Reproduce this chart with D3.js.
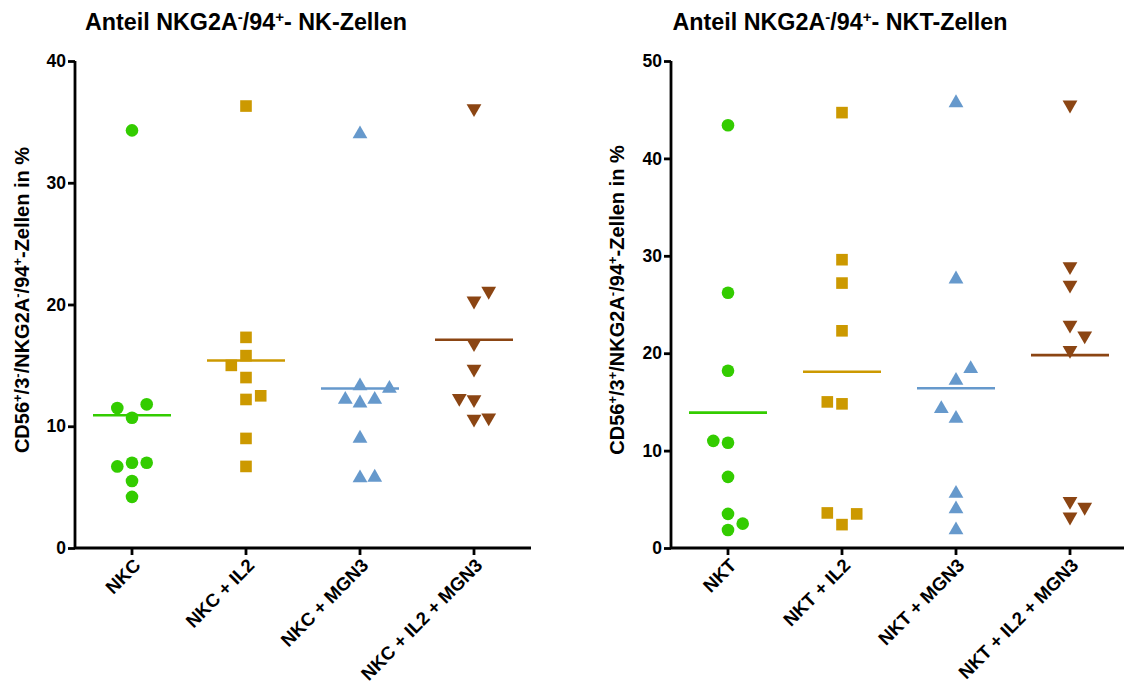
<!DOCTYPE html>
<html>
<head>
<meta charset="utf-8">
<script src="https://cdn.jsdelivr.net/npm/d3@7"></script>
<style>
  html, body { margin: 0; padding: 0; background: #fff; }
  svg { display: block; font-family: "Liberation Sans", Arial, sans-serif; }
</style>
</head>
<body>
<svg id="chart" width="1124" height="689"></svg>
<script>
// ---------- data ----------
const nkCategories = ["NKC", "NKC + IL2", "NKC + MGN3", "NKC + IL2 + MGN3"];
const nktCategories = ["NKT", "NKT + IL2", "NKT + MGN3", "NKT + IL2 + MGN3"];

// NK cells (% values)
const nkcValues        = [34.3, 11.5, 11.8, 10.7, 6.7, 7.0, 7.0, 5.5, 4.2];
const nkcIl2Values     = [36.3, 17.3, 15.8, 15.0, 14.0, 12.2, 12.5, 9.0, 6.7];
const nkcMgn3Values    = [34.0, 13.3, 13.1, 12.2, 11.9, 12.2, 9.0, 5.75, 5.8];
const nkcIl2Mgn3Values = [36.1, 21.1, 20.3, 16.8, 14.7, 12.3, 12.2, 10.6, 10.7];
const nkMeans = [10.9, 15.4, 13.1, 17.1];

// NKT cells (% values)
const nktValues        = [43.4, 26.2, 18.2, 11.0, 10.8, 7.3, 3.5, 2.5, 1.85];
const nktIl2Values     = [44.7, 29.6, 27.2, 22.3, 15.0, 14.8, 3.6, 3.5, 2.4];
const nktMgn3Values    = [45.7, 27.6, 18.4, 17.2, 14.3, 13.3, 5.6, 4.0, 1.85];
const nktIl2Mgn3Values = [45.5, 28.9, 27.0, 22.9, 21.8, 20.3, 4.8, 4.2, 3.2];
const nktMeans = [13.9, 18.1, 16.4, 19.8];

// scatter column (dodge slot) of each point, as drawn
const nkcSlots        = [0, -1, 1, 0, -1, 0, 1, 0, 0];
const nkcIl2Slots     = [0, 0, 0, -1, 0, 0, 1, 0, 0];
const nkcMgn3Slots    = [0, 0, 2, -1, 0, 1, 0, 0, 1];
const nkcIl2Mgn3Slots = [0, 1, 0, 0, 0, -1, 0, 0, 1];
const nktSlots        = [0, 0, 0, -1, 0, 0, 0, 1, 0];
const nktIl2Slots     = [0, 0, 0, 0, -1, 0, -1, 1, 0];
const nktMgn3Slots    = [0, 0, 1, 0, -1, 0, 0, 0, 0];
const nktIl2Mgn3Slots = [0, 0, 0, 0, 1, 0, 0, 1, 0];

const nkTicks = [0, 10, 20, 30, 40];
const nktTicks = [0, 10, 20, 30, 40, 50];

// ---------- styles ----------
const colors = ["#33cc00", "#cc9900", "#6699cc", "#8b4513"];
const shapes = ["circle", "square", "up", "down"];
const FONT = "Liberation Sans, Arial, sans-serif";

const svg = d3.select("#chart");

function superText(sel, parts) {
  parts.forEach(([t, s]) => {
    const ts = sel.append("tspan").text(t);
    if (s === "sup") ts.attr("baseline-shift", "super").attr("font-size", "0.65em");
  });
}

function symbolPath(shp) {
  if (shp === "circle") return d3.symbol(d3.symbolCircle, 125)();
  if (shp === "square") return d3.symbol(d3.symbolSquare, 135)();
  return d3.symbol(d3.symbolTriangle, 95)();
}

function drawPanel(opt) {
  const g = svg.append("g");
  const x = d3.scaleBand().domain(opt.categories).range([opt.left, opt.right]);
  const y = d3.scaleLinear().domain([0, opt.max]).range([548, 61]);
  const slotW = 14.7;

  const yAxis = d3.axisLeft(y).tickValues(opt.ticks).tickSize(7).tickPadding(2);
  const ya = g.append("g").attr("transform", `translate(${opt.left},0)`).call(yAxis);
  const xAxis = d3.axisBottom(x).tickSize(7).tickFormat("");
  const xa = g.append("g").attr("transform", `translate(0,548)`).call(xAxis);
  [ya, xa].forEach(a => {
    a.select(".domain").attr("stroke", "#000").attr("stroke-width", 2.8);
    a.selectAll(".tick line").attr("stroke", "#000").attr("stroke-width", 2.8);
  });
  ya.select(".domain").attr("d", `M0,${y(opt.max)}V548`);
  xa.select(".domain").attr("d", `M${opt.left},0H${opt.right}`);
  ya.selectAll(".tick text").attr("font-size", 17.5).attr("font-weight", "bold")
    .attr("fill", "#000").attr("font-family", FONT);

  // rotated category labels
  g.selectAll(".xlab").data(opt.categories).enter().append("text")
    .attr("class", "xlab")
    .attr("transform", d => `translate(${x(d) + x.bandwidth() / 2 + 5},${562}) rotate(-45)`)
    .attr("text-anchor", "end")
    .attr("dy", "0.35em")
    .attr("font-size", 18.5).attr("font-weight", "bold").attr("fill", "#000")
    .text(d => d);

  // mean lines
  g.selectAll(".mean").data(opt.means).enter().append("line")
    .attr("x1", (d, i) => x(opt.categories[i]) + x.bandwidth() / 2 - 39)
    .attr("x2", (d, i) => x(opt.categories[i]) + x.bandwidth() / 2 + 39)
    .attr("y1", d => y(d)).attr("y2", d => y(d))
    .attr("stroke", (d, i) => colors[i]).attr("stroke-width", 2.6);

  // points
  opt.groups.forEach((vals, gi) => {
    const cx = x(opt.categories[gi]) + x.bandwidth() / 2;
    const pts = vals.map((v, k) => ({ v, s: opt.slots[gi][k] }));
    const shp = shapes[gi];
    g.selectAll(null).data(pts).enter().append("path")
      .attr("d", symbolPath(shp))
      .attr("transform", d => {
        const px = cx + d.s * slotW, py = y(d.v);
        return shp === "down" ? `translate(${px},${py}) rotate(180)` : `translate(${px},${py})`;
      })
      .attr("fill", colors[gi]);
  });

  // title
  const t = g.append("text").attr("x", opt.titleX).attr("y", 30)
    .attr("text-anchor", "middle").attr("font-size", 23.3).attr("font-weight", "bold").attr("fill", "#000");
  superText(t, opt.title);

  // y label
  const yl = g.append("text")
    .attr("transform", `translate(${opt.ylabX},${opt.ylabY}) rotate(-90)`)
    .attr("text-anchor", "middle").attr("font-size", 20).attr("font-weight", "bold").attr("fill", "#000");
  superText(yl, opt.ylabel);
}

drawPanel({
  categories: nkCategories,
  groups: [nkcValues, nkcIl2Values, nkcMgn3Values, nkcIl2Mgn3Values],
  slots: [nkcSlots, nkcIl2Slots, nkcMgn3Slots, nkcIl2Mgn3Slots],
  means: nkMeans, ticks: nkTicks, max: 40,
  left: 75, right: 531, titleX: 246, ylabX: 29, ylabY: 300,
  title: [["Anteil NKG2A", null], ["-", "sup"], ["/94", null], ["+", "sup"], ["- NK-Zellen", null]],
  ylabel: [["CD56", null], ["+", "sup"], ["/3", null], ["-", "sup"], ["/NKG2A", null], ["-", "sup"], ["/94", null], ["+", "sup"], ["-Zellen in %", null]]
});

drawPanel({
  categories: nktCategories,
  groups: [nktValues, nktIl2Values, nktMgn3Values, nktIl2Mgn3Values],
  slots: [nktSlots, nktIl2Slots, nktMgn3Slots, nktIl2Mgn3Slots],
  means: nktMeans, ticks: nktTicks, max: 50,
  left: 671, right: 1127, titleX: 840, ylabX: 624, ylabY: 300,
  title: [["Anteil NKG2A", null], ["-", "sup"], ["/94", null], ["+", "sup"], ["- NKT-Zellen", null]],
  ylabel: [["CD56", null], ["+", "sup"], ["/3", null], ["+", "sup"], ["/NKG2A", null], ["-", "sup"], ["/94", null], ["+", "sup"], ["-Zellen in %", null]]
});
</script>
</body>
</html>
